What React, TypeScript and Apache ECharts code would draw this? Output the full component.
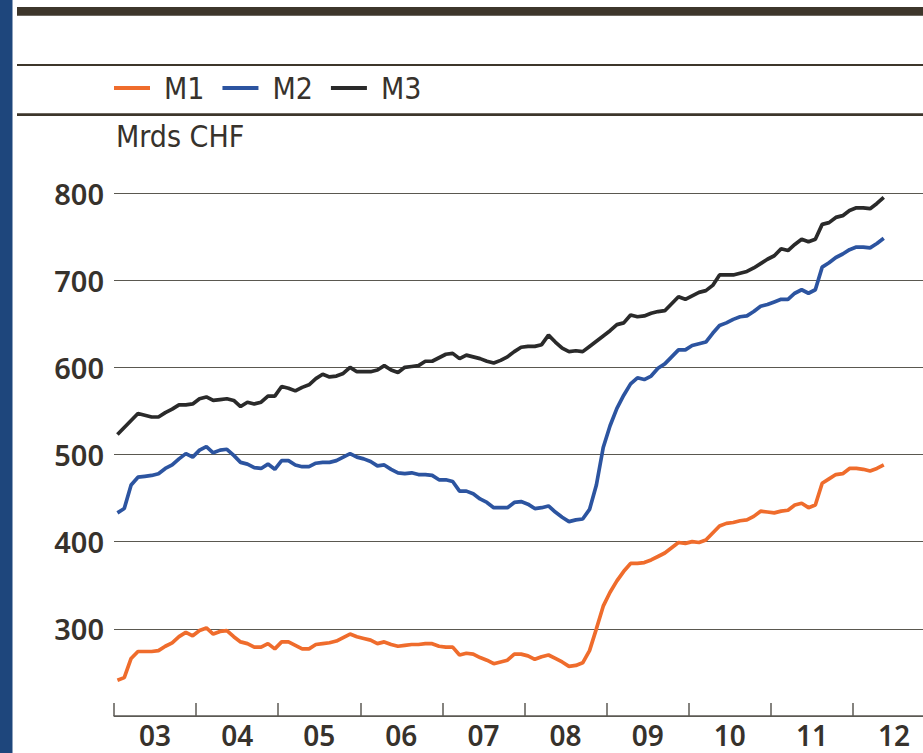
import React, { useEffect, useRef } from "react";
import * as echarts from "echarts";

const startYear = 2003;
const yearTicks = [2003, 2004, 2005, 2006, 2007, 2008, 2009, 2010, 2011, 2012];
const yearLabels = ["03", "04", "05", "06", "07", "08", "09", "10", "11", "12"];
const yTicks = [200, 300, 400, 500, 600, 700, 800];

const M1 = [
  241, 244, 266, 274, 274, 274, 275, 280, 284, 291,
  296, 292, 298, 301, 294, 297, 298, 291, 285, 283,
  279, 279, 283, 277, 285, 285, 281, 277, 277, 282,
  283, 284, 286, 290, 294, 291, 289, 287, 283, 285,
  282, 280, 281, 282, 282, 283, 283, 280, 279, 279,
  270, 272, 271, 267, 264, 260, 262, 264, 271, 271,
  269, 265, 268, 270, 266, 262, 257, 258, 261, 275,
  300, 326, 342, 355, 366, 375, 375, 376, 379, 383,
  387, 393, 399, 398, 400, 399, 402, 410, 418, 421,
  422, 424, 425, 429, 435, 434, 433, 435, 436, 442,
  444, 439, 442, 467, 472, 477, 478, 484, 484, 483,
  481, 484, 488,
];

const M2 = [
  433, 438, 465, 474, 475, 476, 478, 484, 488, 495,
  501, 497, 505, 509, 502, 505, 506, 499, 491, 489,
  485, 484, 489, 483, 493, 493, 488, 486, 486, 490,
  491, 491, 493, 497, 501, 497, 495, 492, 487, 488,
  483, 479, 478, 479, 477, 477, 476, 471, 471, 469,
  458, 458, 455, 449, 445, 439, 439, 439, 445, 446,
  443, 438, 439, 441, 434, 428, 423, 425, 426, 437,
  465, 508, 533, 553, 568, 581, 588, 586, 590, 599,
  604, 612, 620, 620, 625, 627, 629, 639, 648, 651,
  655, 658, 659, 664, 670, 672, 675, 678, 678, 685,
  689, 685, 689, 715, 720, 726, 730, 735, 738, 738,
  737, 742, 748,
];

const M3 = [
  523, 531, 539, 547, 545, 543, 543, 548, 552, 557,
  557, 558, 564, 566, 562, 563, 564, 562, 555, 560,
  558, 560, 567, 567, 578, 576, 573, 577, 580, 587,
  592, 589, 590, 593, 600, 595, 595, 595, 597, 602,
  597, 594, 600, 601, 602, 607, 607, 611, 615, 616,
  610, 614, 612, 610, 607, 605, 608, 612, 618, 623,
  624, 624, 626, 637, 629, 622, 618, 619, 618, 624,
  630, 636, 642, 649, 651, 660, 658, 659, 662, 664,
  665, 673, 681, 678, 682, 686, 688, 694, 706, 706,
  706, 708, 710, 714, 719, 724, 728, 736, 734, 741,
  747, 744, 747, 764, 766, 772, 774, 780, 783, 783,
  782, 788, 795,
];

// monthly observations, placed at mid-month (decimal years)
const toPoints = (vals: number[]) =>
  vals.map((v, i) => [startYear + (i + 0.5) / 12, v]);

const NARROW =
  "'Liberation Sans Narrow', 'Arial Narrow', 'DejaVu Sans Condensed', 'Roboto Condensed', Roboto, sans-serif";
const AXISFONT = "'Noto Sans', 'Open Sans', sans-serif";
const DARK = "#3d362b";
const TEXT = "#37322c";

export default function App() {
  const ref = useRef<HTMLDivElement>(null);

  useEffect(() => {
    if (!ref.current) return;
    const chart = echarts.init(ref.current, undefined, { renderer: "svg" });
    chart.setOption({
      animation: false,
      backgroundColor: "#ffffff",
      grid: { left: 114, right: 0, top: 193, bottom: 37, containLabel: false },
      legend: {
        left: 114,
        top: 73,
        padding: 0,
        itemWidth: 36,
        itemHeight: 4,
        itemGap: 18,
        icon: "rect",
        selectedMode: false,
        textStyle: {
          fontFamily: NARROW,
          fontSize: 30,
          color: TEXT,
          padding: [0, 0, 0, 9],
        },
        data: ["M1", "M2", "M3"],
      },
      xAxis: {
        type: "value",
        min: startYear,
        max: 2012.853,
        axisLine: { show: true, lineStyle: { color: "#5c5a55", width: 1.5 } },
        axisTick: {
          show: true,
          inside: true,
          length: 13,
          customValues: yearTicks,
          lineStyle: { color: "#5c5a55", width: 1.5 },
        },
        axisLabel: {
          customValues: yearTicks.map((y) => y + 0.5),
          formatter: (v: number) => yearLabels[Math.floor(v) - startYear] ?? "",
          fontFamily: AXISFONT,
          fontWeight: 600,
          fontSize: 28,
          color: TEXT,
          margin: 5,
        },
        splitLine: { show: false },
      },
      yAxis: {
        type: "value",
        min: 200,
        max: 800,
        interval: 100,
        axisLine: { show: false },
        axisTick: { show: false },
        axisLabel: {
          formatter: (v: number) => (v === yTicks[0] ? "" : String(v)),
          fontFamily: AXISFONT,
          fontWeight: 600,
          fontSize: 29,
          color: TEXT,
          margin: 10,
        },
        splitLine: { show: true, lineStyle: { color: "#5a5850", width: 1 } },
      },
      graphic: [
        { type: "rect", shape: { x: 0, y: 0, width: 12.5, height: 753 }, style: { fill: "#1e467c" } },
        { type: "rect", shape: { x: 17, y: 7, width: 906, height: 8.7 }, style: { fill: DARK } },
        { type: "rect", shape: { x: 17, y: 64, width: 906, height: 2 }, style: { fill: DARK } },
        { type: "rect", shape: { x: 17, y: 113.3, width: 906, height: 2.7 }, style: { fill: DARK } },
        {
          type: "text",
          x: 116,
          y: 136,
          style: {
            text: "Mrds CHF",
            fontFamily: NARROW,
            fontSize: 30,
            fill: TEXT,
            textVerticalAlign: "middle",
            textAlign: "left",
          },
        },
      ],
      series: [
        {
          name: "M1",
          type: "line",
          data: toPoints(M1),
          showSymbol: false,
          color: "#ef6c2c",
          lineStyle: { width: 3.7, color: "#ef6c2c" },
        },
        {
          name: "M2",
          type: "line",
          data: toPoints(M2),
          showSymbol: false,
          color: "#2c54a0",
          lineStyle: { width: 3.7, color: "#2c54a0" },
        },
        {
          name: "M3",
          type: "line",
          data: toPoints(M3),
          showSymbol: false,
          color: "#2a2a2a",
          lineStyle: { width: 3.7, color: "#2a2a2a" },
        },
      ],
    });
    return () => chart.dispose();
  }, []);

  return (
    <div
      ref={ref}
      style={{ position: "absolute", left: 0, top: 0, width: 923, height: 753 }}
    />
  );
}
